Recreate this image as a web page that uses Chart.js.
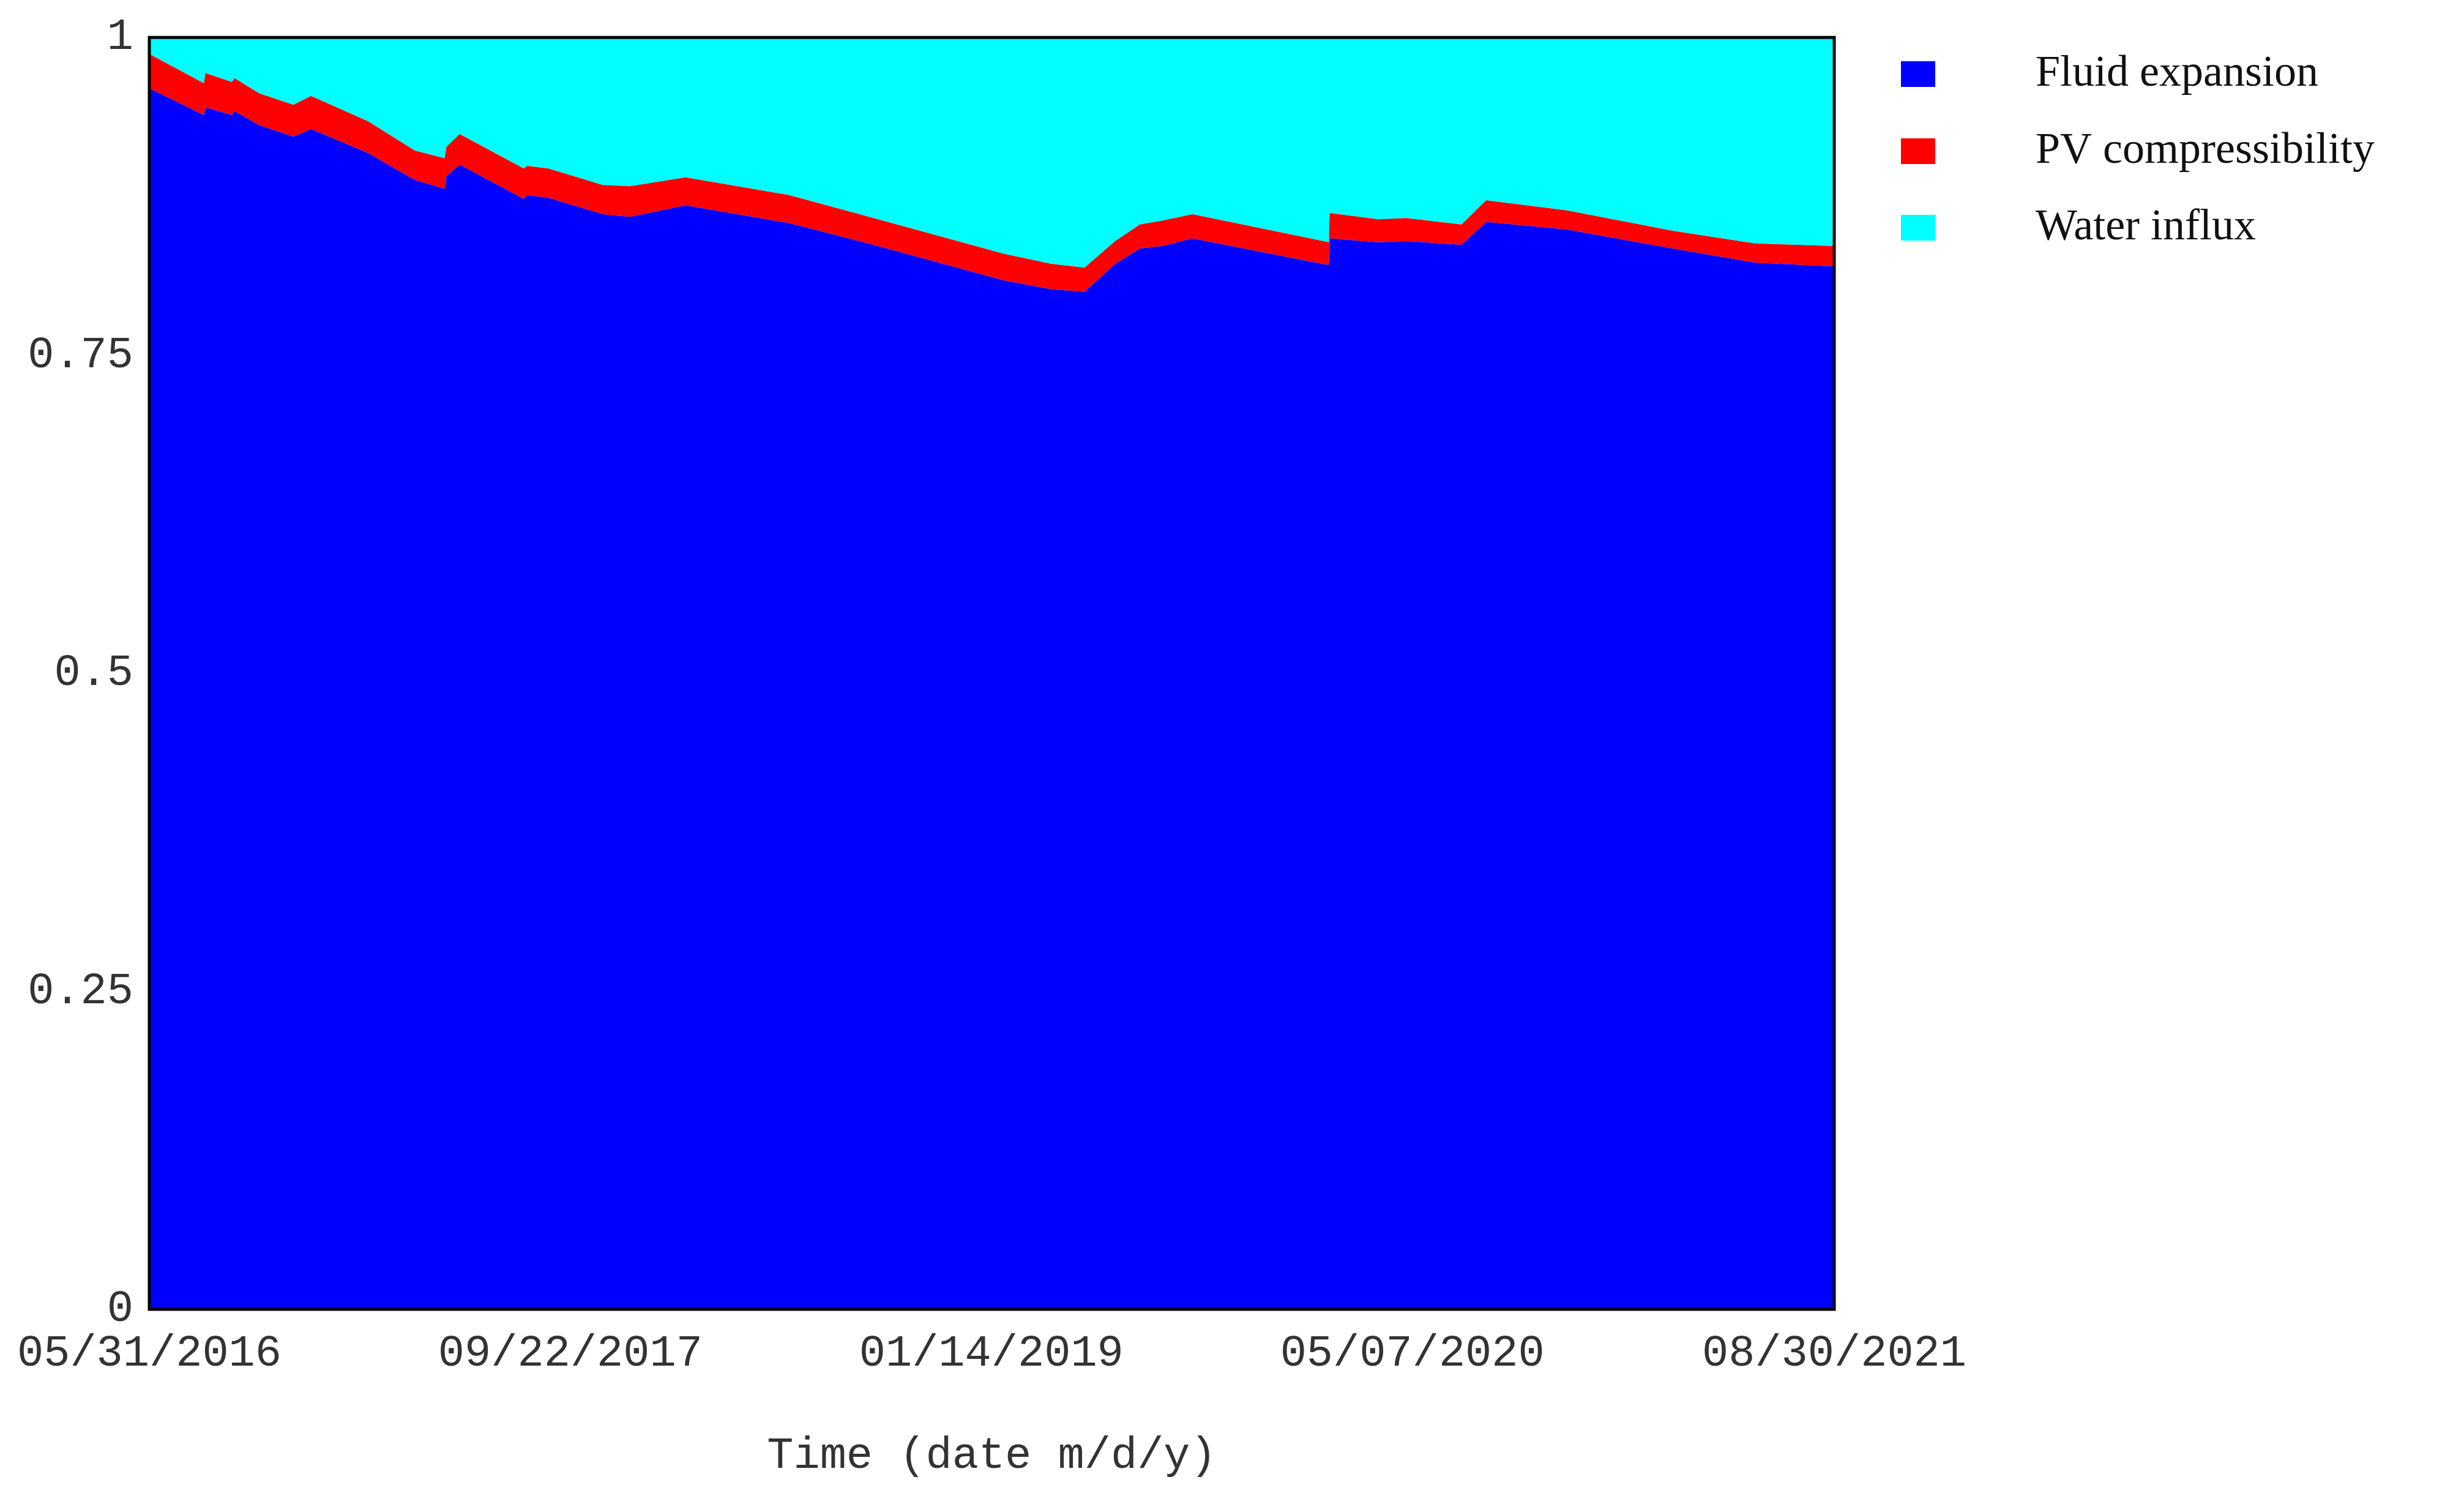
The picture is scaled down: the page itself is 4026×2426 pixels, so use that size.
<!DOCTYPE html>
<html><head><meta charset="utf-8">
<script src="https://cdn.jsdelivr.net/npm/chart.js@4/dist/chart.umd.min.js"></script>
<style>html,body{margin:0;padding:0;background:#fff;overflow:hidden}</style>
</head><body>
<canvas id="c" width="4026" height="2426"></canvas>
<script>
const days = [0,62,64,94,97,125,164,184,249,302,336,338,353,426,430,454,516,547,610,728,824,972,1026,1064,1099,1127,1152,1187,1342,1343,1398,1430,1493,1521,1613,1733,1827,1917];
const fluidExpansion = [0.960,0.939,0.945,0.939,0.942,0.931,0.922,0.928,0.909,0.888,0.881,0.891,0.900,0.873,0.876,0.874,0.861,0.859,0.868,0.854,0.837,0.809,0.802,0.800,0.822,0.834,0.836,0.842,0.821,0.842,0.839,0.840,0.837,0.855,0.849,0.834,0.823,0.820];
const pvCompressibility = [0.027,0.025,0.027,0.026,0.026,0.025,0.025,0.026,0.025,0.023,0.024,0.023,0.024,0.024,0.023,0.023,0.023,0.024,0.022,0.022,0.021,0.021,0.020,0.019,0.018,0.019,0.020,0.019,0.018,0.020,0.018,0.018,0.016,0.017,0.015,0.014,0.015,0.016];
const waterInflux = [0.013,0.036,0.028,0.035,0.032,0.044,0.053,0.046,0.066,0.089,0.095,0.086,0.076,0.103,0.101,0.103,0.116,0.117,0.110,0.124,0.142,0.170,0.178,0.181,0.160,0.147,0.144,0.139,0.161,0.138,0.143,0.142,0.147,0.128,0.136,0.152,0.162,0.164];
const xTickDays = [0,479,958,1437,1917];
const xTickLabels = ["05/31/2016","09/22/2017","01/14/2019","05/07/2020","08/30/2021"];
const yTicks = [0,0.25,0.5,0.75,1];
const yTickLabels = ["0","0.25","0.5","0.75","1"];
const seriesNames = ["Fluid expansion","PV compressibility","Water influx"];
const seriesColors = ["#0000FF","#FF0000","#00FFFF"];

const mk = (arr) => days.map((d,i)=>({x:d,y:arr[i]}));
const datasets = [fluidExpansion,pvCompressibility,waterInflux].map((a,i)=>({
  label: seriesNames[i], data: mk(a), backgroundColor: seriesColors[i], borderColor: seriesColors[i],
  borderWidth: 0, pointRadius: 0, tension: 0, fill: i===0 ? 'origin' : '-1'
}));

const frame = {
  id:'frame',
  afterDatasetsDraw(ch){
    const a = ch.chartArea, c = ch.ctx;
    c.save(); c.strokeStyle='#000'; c.lineWidth=5;
    c.strokeRect(a.left, a.top, a.right-a.left, a.bottom-a.top);
    c.restore();
  },
  afterDraw(ch){
    const c = ch.ctx; c.save();
    c.font = '72px "Liberation Serif", serif'; c.textBaseline='middle'; c.fillStyle='#111';
    const ys=[121,247,372];
    ch.data.datasets.forEach((ds,i)=>{
      c.fillStyle = ds.backgroundColor; c.fillRect(3106, ys[i]-21, 56, 42);
      c.fillStyle = '#111'; c.fillText(ds.label, 3326, ys[i]);
    });
    c.restore();
  }
};

new Chart(document.getElementById('c'), {
  type:'line',
  data:{datasets},
  plugins:[frame],
  options:{
    responsive:false, devicePixelRatio:1, animation:false,
    layout:{padding:{top:33,right:1029,left:0,bottom:0}},
    plugins:{legend:{display:false},tooltip:{enabled:false}},
    scales:{
      x:{type:'linear',min:0,max:1917,
        grid:{display:false},border:{display:false},
        afterBuildTicks(ax){ax.ticks = xTickDays.map(v=>({value:v}));},
        afterFit(ax){ax.height=287;},
        title:{display:true,text:'Time (date m/d/y)',font:{family:'Liberation Mono',size:72},color:'#333',padding:{top:0}},
        ticks:{autoSkip:false,maxRotation:0,padding:22,font:{family:'Liberation Mono',size:72},color:'#333',
          callback:(v)=>{const i=xTickDays.indexOf(v);return i>=0?xTickLabels[i]:'';}}
      },
      y:{stacked:true,min:0,max:1,
        grid:{display:false},border:{display:false},
        afterBuildTicks(ax){ax.ticks = yTicks.map(v=>({value:v}));},
        afterFit(ax){ax.width=244;},
        ticks:{padding:18,font:{family:'Liberation Mono',size:72},color:'#333',
          callback:(v)=>{const i=yTicks.indexOf(v);return i>=0?yTickLabels[i]:'';}}
      }
    }
  }
});
</script>
</body></html>
